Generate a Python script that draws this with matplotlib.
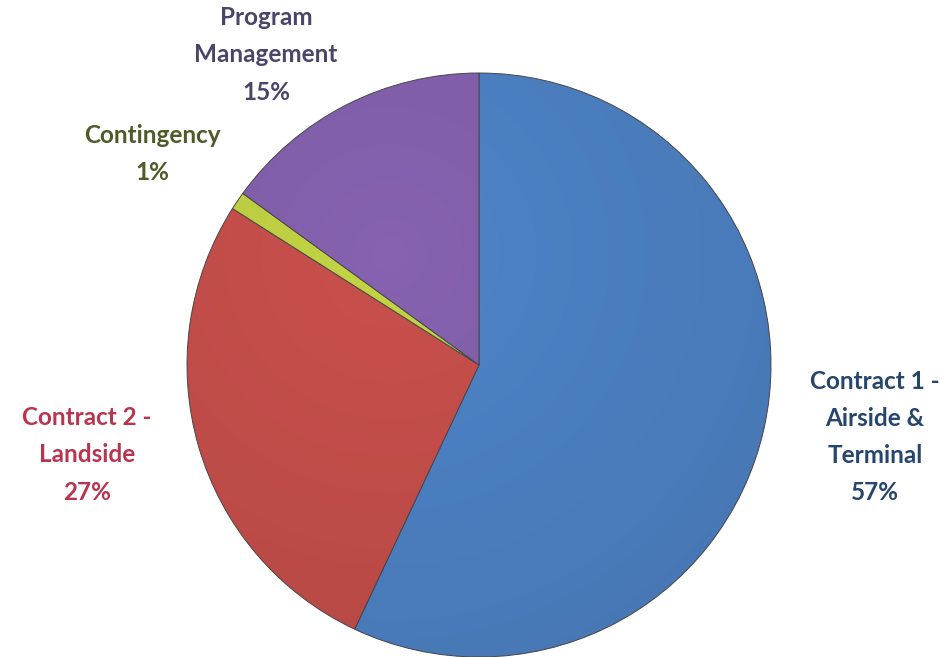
import numpy as np
import matplotlib.pyplot as plt

# slice data, clockwise from 12 o'clock
labels = ['Contract 1 -\nAirside &\nTerminal', 'Contract 2 -\nLandside', 'Contingency', 'Program\nManagement']
shares = [57, 27, 1, 15]
colors = ['#4f84c8', '#c9504c', '#c3d444', '#8662b0']
text_colors = ['#27466e', '#b8344f', '#4f5a28', '#4c456a']

# label anchor points in pixels (x, y from top)
label_pos = [(875, 437), (87, 455), (152, 154), (266, 55)]

W, H = 952, 657


def main():
    fig = plt.figure(figsize=(W / 100, H / 100), dpi=100)
    ax = fig.add_axes([0, 0, 1, 1])

    cx, cy, r = 479, H - 365, 292
    ax.pie(shares, colors=colors, startangle=90, counterclock=False,
           center=(cx, cy), radius=r, frame=True,
           wedgeprops=dict(edgecolor='#4a4a4a', linewidth=0.7))
    ax.set_xlim(0, W)
    ax.set_ylim(0, H)
    ax.set_aspect('equal')
    ax.axis('off')

    # soft lighting overlay to mimic the bevelled look
    yy, xx = np.mgrid[0:H, 0:W]
    d = np.hypot(xx - (cx - 90), yy - (cy + 110)) / (r * 1.6)
    shade = np.clip(d, 0, 1)
    overlay = np.zeros((H, W, 4))
    overlay[..., 3] = shade * 0.1
    im = ax.imshow(overlay, extent=[0, W, 0, H], origin='lower', zorder=3)
    circ = plt.Circle((cx, cy), r, transform=ax.transData)
    im.set_clip_path(circ)

    for lab, pct, (x, y), c in zip(labels, shares, label_pos, text_colors):
        ax.text(x, H - y, f'{lab}\n{pct}%', ha='center', va='center', color=c,
                fontsize=17.5, fontweight='bold', family=['Lato', 'DejaVu Sans'],
                linespacing=1.75)

    fig.savefig('out.png', dpi=100)


if __name__ == '__main__':
    main()
